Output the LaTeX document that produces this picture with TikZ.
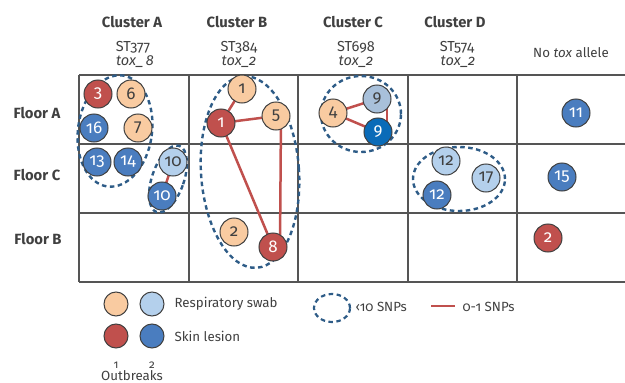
\documentclass[tikz,border=0pt]{standalone}
\usepackage{fontspec}
\setmainfont{Fira Sans}[Numbers=OldStyle]
\definecolor{peach}{HTML}{F9CBA1}
\definecolor{lblue}{HTML}{B4D0EC}
\definecolor{cred}{HTML}{C0504D}
\definecolor{cblue}{HTML}{4A7DBF}
\definecolor{gblue}{HTML}{A8C0DA}
\definecolor{dblue}{HTML}{0A6BB8}
\definecolor{snpc}{HTML}{2E5C87}
\definecolor{gridc}{HTML}{555555}
\definecolor{txt}{HTML}{404040}
\begin{document}
\begin{tikzpicture}[x=1pt,y=-1pt,
  iso/.style={circle,draw=txt,line width=1pt,minimum size=28pt,inner sep=0pt,
    font=\fontsize{17}{17}\selectfont},
  resp/.style={iso,fill=peach,text=txt},
  respb/.style={iso,fill=lblue,text=txt},
  skinr/.style={iso,fill=cred,text=white},
  skinb/.style={iso,fill=cblue,text=white},
  gb/.style={iso,fill=gblue,text=txt},
  db/.style={iso,fill=dblue,text=white},
  snp/.style={draw=snpc,line width=2.4pt,dash pattern=on 4.5pt off 3.5pt},
  link/.style={draw=cred,line width=2.5pt},
  gridl/.style={draw=gridc,line width=1.3pt},
  hdr/.style={text=txt,font=\fontsize{14.8}{17}\selectfont\bfseries},
  sub/.style={text=txt,font=\fontsize{14.5}{17}\selectfont},
  subi/.style={text=txt,font=\fontsize{14.5}{17}\selectfont\itshape},
  flr/.style={text=txt,font=\fontsize{14.8}{17}\selectfont\bfseries},
  leg/.style={text=txt,font=\fontsize{13.3}{15}\selectfont},
  legc/.style={circle,draw=txt,line width=1pt,minimum size=24pt,inner sep=0pt}]
\useasboundingbox (0,0) rectangle (625,383);
% grid
\draw[gridl] (79,75) -- (625,75);
\draw[gridl] (79,144) -- (625,144);
\draw[gridl] (79,213) -- (625,213);
\draw[gridl] (79,282) -- (625,282);
\foreach \xx in {79,189,298,408,517} \draw[gridl] (\xx,75) -- (\xx,282);
% headers
\node[hdr] (hA) at (132,22) {Cluster A};
\node[hdr] (hB) at (237,22) {Cluster B};
\node[hdr] (hC) at (353,22) {Cluster C};
\node[hdr] (hD) at (455,22) {Cluster D};
\node[sub] (sA) at (133,47) {ST377};
\node[sub] (sB) at (239,47) {ST384};
\node[sub] (sC) at (356,47) {ST698};
\node[sub] (sD) at (457,47) {ST574};
\node[subi] (tA) at (135,62) {tox\_\,8};
\node[subi] (tB) at (239,62) {tox\_2};
\node[subi] (tC) at (356,62) {tox\_2};
\node[subi] (tD) at (458,62) {tox\_2};
\node[text=txt,font=\fontsize{13.3}{15}\selectfont] (nt) at (571,53) {No \textit{tox} allele};
\node[flr] (fA) at (37,113) {Floor A};
\node[flr] (fC) at (37,175) {Floor C};
\node[flr] (fB) at (38,239) {Floor B};
% SNP ellipses
\draw[snp,rotate around={-8:(115,131)}] (115,131) ellipse [x radius=37pt,y radius=56pt];
\draw[snp,rotate around={-19:(168,179)}] (168,179) ellipse [x radius=16pt,y radius=35pt];
\draw[snp,rotate around={4:(250,172)}] (250,172) ellipse [x radius=49pt,y radius=96pt];
\draw[snp] (361,114) ellipse [x radius=40pt,y radius=38pt];
\draw[snp] (459,179) ellipse [x radius=46pt,y radius=32pt];
% links (drawn under the isolates)
\coordinate (a10rc) at (173,162);
\coordinate (a10sc) at (162,196);
\coordinate (b1rc) at (242,89);
\coordinate (b1sc) at (221,123);
\coordinate (b5c) at (276,116);
\coordinate (b8c) at (273,247);
\coordinate (c4c) at (333,113);
\coordinate (c9ac) at (377,99);
\coordinate (c9bc) at (378,132);
\draw[link] (a10rc) -- (a10sc);
\draw[link] (b1sc) -- (b1rc);
\draw[link] (b1sc) -- (b5c);
\draw[link] (b1sc) -- (b8c);
\draw[link] ([xshift=5pt]b5c) -- ([xshift=7pt]b8c);
\draw[link] (c4c) -- (c9ac);
\draw[link] (c4c) -- (c9bc);
\draw[link] ([xshift=10pt]c9ac) -- ([xshift=9pt]c9bc);
% isolates
\node[skinr] (a3) at (98,94) {3};
\node[resp] (a6) at (131,94) {6};
\node[skinb] (a16) at (94,128) {16};
\node[resp] (a7) at (138,128) {7};
\node[skinb] (a13) at (97,162) {13};
\node[skinb] (a14) at (128,162) {14};
\node[respb] (a10r) at (a10rc) {10};
\node[skinb] (a10s) at (a10sc) {10};
\node[resp] (b1r) at (b1rc) {1};
\node[skinr] (b1s) at (b1sc) {1};
\node[resp] (b5) at (b5c) {5};
\node[resp] (b2) at (234,232) {2};
\node[skinr] (b8) at (b8c) {8};
\node[resp] (c4) at (c4c) {4};
\node[gb] (c9a) at (c9ac) {9};
\node[db] (c9b) at (c9bc) {9};
\node[respb] (d12a) at (446,161) {12};
\node[respb] (d17) at (486,178) {17};
\node[skinb] (d12b) at (437,195) {12};
\node[skinb] (n11) at (576,113) {11};
\node[skinb] (n15) at (562,177) {15};
\node[skinr] (n2) at (548,238) {2};
% legend
\node[legc,fill=peach] (lp) at (116,304) {};
\node[legc,fill=lblue] (llb) at (152,304) {};
\node[legc,fill=cred] (lr) at (116,336) {};
\node[legc,fill=cblue] (lb) at (152,336) {};
\node[leg,anchor=west] (lresp) at (171,304) {Respiratory swab};
\node[leg,anchor=west] (lskin) at (171,336) {Skin lesion};
\node[text=txt,font=\fontsize{11.5}{12}\selectfont] (l1) at (116,365) {1};
\node[text=txt,font=\fontsize{11.5}{12}\selectfont] (l2) at (152,365) {2};
\node[leg] (lout) at (132,376) {Outbreaks};
\draw[snp,line width=2.2pt] (332,308) ellipse [x radius=18pt,y radius=14pt];
\node[leg,anchor=west] (lsnp) at (352,307) {‹10 SNPs};
\coordinate (la) at (431,306);
\coordinate (lbq) at (455,306);
\draw[link] (la) -- (lbq);
\node[leg,anchor=west] (llink) at (459,307) {0-1 SNPs};
\end{tikzpicture}
\end{document}
